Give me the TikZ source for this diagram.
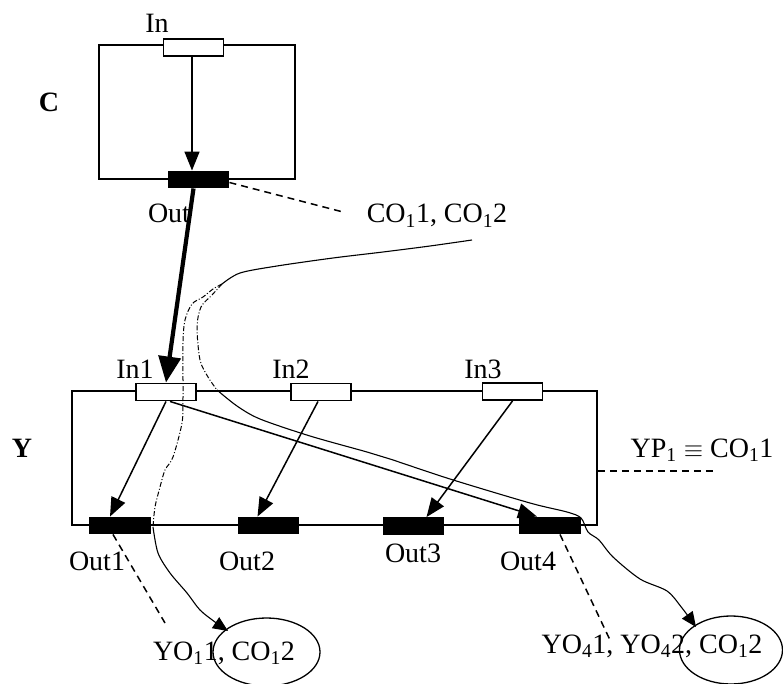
\documentclass[tikz,border=0pt]{standalone}
\usepackage{fontspec}
\setmainfont{Liberation Serif}
\usetikzlibrary{arrows.meta,shapes.geometric}
\newcommand\sbx[1]{\textsubscript{#1}}
\begin{document}
\begin{tikzpicture}[x=1pt,y=-1pt,
  lbl/.style={anchor=base,inner sep=0pt,font=\fontsize{28}{32}\selectfont},
  boxline/.style={draw,line width=1.8pt,inner sep=0pt},
  inport/.style={draw,fill=white,line width=1.9pt,minimum width=60pt,minimum height=17pt,inner sep=0pt},
  outport/.style={draw,fill=black,line width=1.9pt,minimum width=60pt,minimum height=16pt,inner sep=0pt},
  thinarrow/.style={line width=1.5pt,-{Triangle[width=15pt,length=19pt]}},
  thickarrow/.style={line width=4.2pt,-{Triangle[width=22pt,length=26pt]}},
  dashline/.style={line width=1.5pt,dash pattern=on 7pt off 5pt},
  curve/.style={line width=1.1pt},
  dcurve/.style={line width=1pt,dash pattern=on 5pt off 2pt on 1pt off 2pt},
  oval/.style={draw,ellipse,line width=1.3pt,inner sep=0pt}
]
\useasboundingbox (0,0) rectangle (783,684);
% boxes
\node[boxline,minimum width=196pt,minimum height=134pt] (cbox) at (197,112) {};
\node[boxline,minimum width=525pt,minimum height=134pt] (ybox) at (334.5,458) {};
% ports
\node[inport] (cin) at (193.5,47.5) {};
\node[outport] (cout) at (198.5,179.5) {};
\node[inport] (in1) at (166,392) {};
\node[inport] (in2) at (321,392) {};
\node[inport] (in3) at (512.5,391.5) {};
\node[outport] (out1) at (120,525.5) {};
\node[outport] (out2) at (268.5,525.5) {};
\node[outport] (out3) at (413.5,526) {};
\node[outport] (out4) at (550,525.5) {};
% ellipses
\node[oval,minimum width=107pt,minimum height=68pt] (e1) at (266.5,652) {};
\node[oval,minimum width=103pt,minimum height=68pt] (e2) at (731,650) {};
% labels
\node[lbl,font=\fontsize{28}{32}\selectfont\bfseries] (lc) at (49,112) {C};
\node[lbl,font=\fontsize{28}{32}\selectfont\bfseries] (ly) at (22,457) {Y};
\node[lbl] (lin) at (157,33) {In};
\node[lbl] (lout) at (169,223) {Out};
\node[lbl] (lin1) at (135,378) {In1};
\node[lbl] (lin2) at (291,378) {In2};
\node[lbl] (lin3) at (483,378) {In3};
\node[lbl] (lout1) at (97,570) {Out1};
\node[lbl] (lout2) at (247,570) {Out2};
\node[lbl] (lout3) at (413,562) {Out3};
\node[lbl] (lout4) at (528,570) {Out4};
\node[lbl] (lco) at (437,223) {CO\sbx{1}1, CO\sbx{1}2};
\node[lbl] (lyp) at (702,457) {YP\sbx{1} $\equiv$ CO\sbx{1}1};
\node[lbl] (lyo1) at (224,660) {YO\sbx{1}1, CO\sbx{1}2};
\node[lbl] (lyo4) at (652,653) {YO\sbx{4}1, YO\sbx{4}2, CO\sbx{1}2};
% dashed leaders
\coordinate (dco) at (343,212);
\coordinate (dyp) at (717,471);
\coordinate (dyo1) at (165,623);
\coordinate (dyo4) at (610,640);
\draw[dashline] ([yshift=-3pt]cout.east) -- (dco);
\draw[dashline] (ybox.east |- dyp) -- (dyp);
\draw[dashline] ([xshift=-7pt]out1.south) -- (dyo1);
\draw[dashline] ([xshift=10pt]out4.south) -- (dyo4);
% arrows
\draw[thinarrow] ([xshift=-1.5pt]cin.south) -- ([xshift=-6.5pt]cout.north);
\draw[thickarrow] ([xshift=-5pt]cout.south) -- (in1.north);
\draw[thinarrow] (in1.south) -- ([xshift=-10pt]out1.north);
\draw[thinarrow] ([xshift=-3pt]in2.south) -- ([xshift=-11pt]out2.north);
\draw[thinarrow] (in3.south) -- ([xshift=13pt]out3.north);
\draw[thinarrow] ([xshift=4pt]in1.south) -- ([xshift=-13pt]out4.north);
% flow curves
\coordinate (cstart) at (472,240);
\coordinate (kink) at (222,284);
\coordinate (ybot) at (153,527);
\coordinate (a1) at (228,631);
\coordinate (a2) at (696,627);
\draw[curve] plot[smooth,tension=0.5] coordinates {(cstart) (430,246) (383,252) (333,258) (277,266) (240,273) (kink)};
\draw[dcurve] plot[smooth,tension=0.5] coordinates {(kink) (212,295) (201,307) (197,327) (200,360) (208,377) (217,390)};
\draw[curve,-{Triangle[width=13pt,length=15pt]}] plot[smooth,tension=0.5] coordinates {(217,390) (237,406) (260,419) (310,436) (367,452) (390,459) (450,479) (530,503) (567,512) (581,518) (588,532) (599,540) (613,557) (640,579) (667,591) (682,608) (a2)};
\draw[dcurve] plot[smooth,tension=0.5] coordinates {(kink) (213,289) (203,297) (192,304) (185,320) (183,343) (183,397) (182,423) (173,457) (165,470) (160,487) (155,507) (ybot)};
\draw[curve,-{Triangle[width=13pt,length=15pt]}] plot[smooth,tension=0.5] coordinates {(ybot) (158,553) (170,573) (187,593) (200,610) (215,622) (a1)};
\end{tikzpicture}
\end{document}
